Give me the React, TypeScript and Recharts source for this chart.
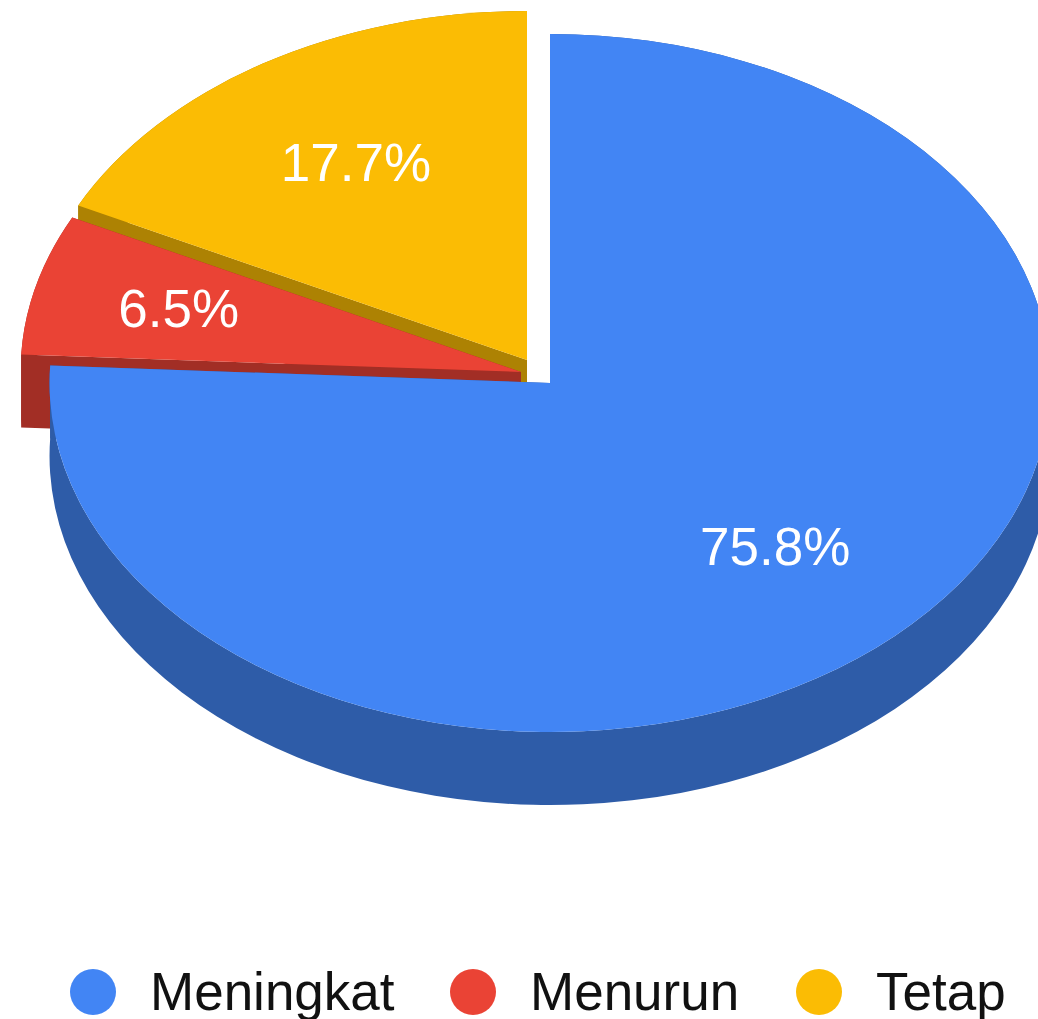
import React from "react";
import { PieChart, Pie, Legend } from "recharts";

// Drawn back to front so the largest slice ends up on top.
const categories = ["Tetap", "Menurun", "Meningkat"];
const shares = [17.7, 6.5, 75.8];
const topColors = ["#FBBC04", "#EA4335", "#4285F4"];
const wallColors = ["#AD8203", "#A22E25", "#2E5CA8"];
const shiftX = [-23, -29, 0];
const shiftY = [-23, -11, 0];
const labelReach = [0.655, 0.715, 0.65];
const labelNudgeX = [2, 4, 1];
const labelNudgeY = [-3, -1, -1];

const data = categories.map((name, i) => ({ name, value: shares[i], fill: topColors[i] }));

const WIDTH = 1038;
const HEIGHT = 1019;
const CX = 550;
const CY = 383;
const RY = 349;
const STRETCH = 1.434;
const DEPTH = 73;
const RAD = Math.PI / 180;
const FONT = "'Liberation Sans', Arial, sans-serif";

const pt = (cx: number, cy: number, r: number, a: number) => ({
  x: cx + r * STRETCH * Math.cos(a * RAD),
  y: cy - r * Math.sin(a * RAD),
});

function Slice(props: any) {
  const { cx, cy, outerRadius: r, startAngle, endAngle, index, name } = props;
  const i = index ?? categories.indexOf(name);
  const ox = cx + shiftX[i];
  const oy = cy + shiftY[i];
  const a = pt(ox, oy, r, startAngle);
  const b = pt(ox, oy, r, endAngle);
  const large = Math.abs(endAngle - startAngle) > 180 ? 1 : 0;
  const rx = r * STRETCH;
  const top = `M${ox},${oy}L${a.x},${a.y}A${rx},${r} 0 ${large} 0 ${b.x},${b.y}Z`;
  const rim =
    `M${a.x},${a.y}A${rx},${r} 0 ${large} 0 ${b.x},${b.y}` +
    `L${b.x},${b.y + DEPTH}A${rx},${r} 0 ${large} 1 ${a.x},${a.y + DEPTH}Z`;
  return (
    <g>
      <path d={rim} fill={wallColors[i]} />
      <path d={`M${ox},${oy}L${a.x},${a.y}L${a.x},${a.y + DEPTH}L${ox},${oy + DEPTH}Z`} fill={wallColors[i]} />
      <path d={`M${ox},${oy}L${b.x},${b.y}L${b.x},${b.y + DEPTH}L${ox},${oy + DEPTH}Z`} fill={wallColors[i]} />
      <path d={top} fill={topColors[i]} />
    </g>
  );
}

function SliceLabel(props: any) {
  const { cx, cy, outerRadius: r, midAngle, index, value, name } = props;
  const i = index ?? categories.indexOf(name);
  const p = pt(cx + shiftX[i], cy + shiftY[i], r * labelReach[i], midAngle);
  return (
    <text
      x={p.x + labelNudgeX[i]}
      y={p.y + labelNudgeY[i]}
      fill="#FFFFFF"
      textAnchor="middle"
      dominantBaseline="central"
      fontFamily={FONT}
      fontSize={53}
    >
      {`${value}%`}
    </text>
  );
}

const legendOffsets: Record<string, number> = { Meningkat: 70, Menurun: 450, Tetap: 796 };

function LegendRow() {
  return (
    <div style={{ position: "relative", width: WIDTH, height: 52 }}>
      {["Meningkat", "Menurun", "Tetap"].map((name) => (
        <div
          key={name}
          style={{
            position: "absolute",
            left: legendOffsets[name],
            top: 0,
            display: "flex",
            alignItems: "center",
            height: 52,
          }}
        >
          <span
            style={{
              width: 46,
              height: 46,
              borderRadius: "50%",
              background: topColors[categories.indexOf(name)],
              marginRight: 34,
              display: "inline-block",
            }}
          />
          <span style={{ fontFamily: FONT, fontSize: 53, color: "#111111", lineHeight: "52px" }}>{name}</span>
        </div>
      ))}
    </div>
  );
}

export default function App() {
  return (
    <div style={{ position: "absolute", left: 0, top: 0, width: WIDTH, height: HEIGHT, overflow: "hidden", background: "#fff" }}>
      <PieChart width={WIDTH} height={HEIGHT} margin={{ top: 0, right: 0, bottom: 0, left: 0 }}>
        <Pie
          data={data}
          dataKey="value"
          nameKey="name"
          cx={CX}
          cy={CY}
          innerRadius={0}
          outerRadius={RY}
          startAngle={90}
          endAngle={450}
          stroke="none"
          isAnimationActive={false}
          shape={Slice}
          label={SliceLabel}
          labelLine={false}
        />
        <Legend
          content={LegendRow}
          layout="horizontal"
          align="left"
          verticalAlign="bottom"
          wrapperStyle={{ left: 0, width: WIDTH, bottom: 1 }}
        />
      </PieChart>
    </div>
  );
}
